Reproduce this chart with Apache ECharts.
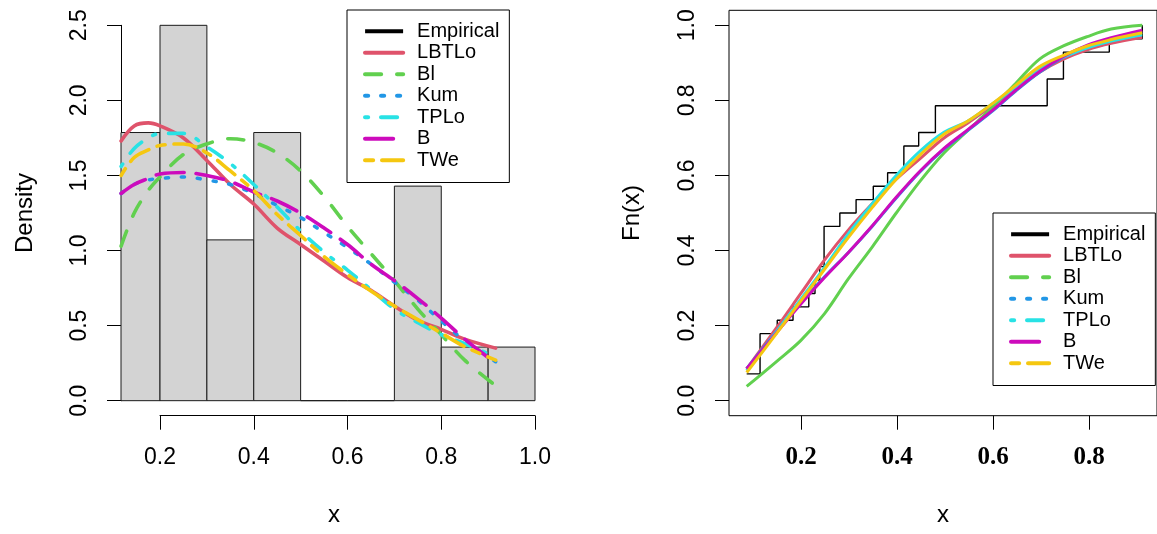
<!DOCTYPE html>
<html><head><meta charset="utf-8">
<script src="https://cdn.jsdelivr.net/npm/echarts@6/dist/echarts.min.js"></script>
<style>html,body{margin:0;padding:0;background:#fff}#c{width:1157px;height:534px}</style>
</head><body><div id="c"></div>
<script>
// ---------------- data ----------------
const modelNames = ['LBTLo', 'Bl', 'Kum', 'TPLo', 'B', 'TWe'];
const legendNames = ['Empirical', 'LBTLo', 'Bl', 'Kum', 'TPLo', 'B', 'TWe'];

// histogram (density scale)
const histBreaks  = [0.0, 0.1, 0.2, 0.3, 0.4, 0.5, 0.6, 0.7, 0.8, 0.9, 1.0];
const histDensity = [0.714, 1.786, 2.5, 1.071, 1.786, 0, 0, 1.429, 0.357, 0.357];

// fitted densities (left panel)
const densX     = [0.117, 0.145, 0.175, 0.2, 0.25, 0.3, 0.35, 0.4, 0.45, 0.5, 0.55, 0.6, 0.65, 0.7, 0.75, 0.8, 0.85, 0.916];
const densLBTLo = [1.73, 1.83, 1.85, 1.83, 1.75, 1.60, 1.44, 1.31, 1.15, 1.04, 0.93, 0.82, 0.735, 0.63, 0.535, 0.475, 0.41, 0.35];
const densBl    = [1.03, 1.25, 1.40, 1.49, 1.64, 1.71, 1.745, 1.72, 1.65, 1.53, 1.36, 1.16, 0.98, 0.80, 0.61, 0.44, 0.27, 0.10];
const densKum   = [1.38, 1.44, 1.47, 1.48, 1.49, 1.47, 1.44, 1.38, 1.30, 1.22, 1.12, 1.02, 0.91, 0.79, 0.67, 0.53, 0.40, 0.26];
const densTPLo  = [1.56, 1.68, 1.75, 1.78, 1.78, 1.69, 1.58, 1.44, 1.29, 1.13, 0.99, 0.87, 0.74, 0.61, 0.52, 0.44, 0.38, 0.29];
const densB     = [1.38, 1.44, 1.48, 1.51, 1.52, 1.50, 1.46, 1.39, 1.33, 1.25, 1.15, 1.04, 0.91, 0.80, 0.68, 0.55, 0.41, 0.25];
const densTWe   = [1.50, 1.62, 1.67, 1.70, 1.71, 1.65, 1.53, 1.40, 1.24, 1.10, 0.96, 0.84, 0.73, 0.63, 0.54, 0.45, 0.36, 0.27];

// empirical CDF steps (right panel)
const ecdfX = [0.087, 0.115, 0.151, 0.184, 0.217, 0.230, 0.240, 0.249, 0.282, 0.316, 0.352, 0.382, 0.416, 0.447, 0.482, 0.716, 0.750, 0.846, 0.915];
const ecdfY = [0.0714, 0.1786, 0.2143, 0.25, 0.2857, 0.3214, 0.3571, 0.4643, 0.5, 0.5357, 0.5714, 0.6071, 0.6786, 0.7143, 0.7857, 0.8571, 0.9286, 0.9643, 1.0];

// fitted CDFs (right panel)
const cdfX     = [0.087, 0.15, 0.2, 0.25, 0.3, 0.35, 0.4, 0.45, 0.5, 0.55, 0.6, 0.65, 0.7, 0.75, 0.8, 0.85, 0.915];
const cdfLBTLo = [0.085, 0.195, 0.285, 0.375, 0.455, 0.525, 0.59, 0.645, 0.70, 0.74, 0.785, 0.83, 0.875, 0.91, 0.935, 0.952, 0.968];
const cdfBl    = [0.038, 0.105, 0.16, 0.232, 0.325, 0.41, 0.50, 0.585, 0.66, 0.72, 0.78, 0.845, 0.91, 0.945, 0.97, 0.99, 1.0];
const cdfKum   = [0.085, 0.185, 0.26, 0.33, 0.395, 0.465, 0.54, 0.61, 0.67, 0.72, 0.77, 0.825, 0.875, 0.915, 0.945, 0.964, 0.982];
const cdfTPLo  = [0.08, 0.185, 0.27, 0.355, 0.445, 0.525, 0.60, 0.665, 0.715, 0.745, 0.79, 0.835, 0.885, 0.915, 0.94, 0.958, 0.975];
const cdfB     = [0.085, 0.182, 0.257, 0.328, 0.395, 0.466, 0.542, 0.612, 0.672, 0.722, 0.772, 0.827, 0.877, 0.917, 0.947, 0.967, 0.987];
const cdfTWe   = [0.075, 0.18, 0.265, 0.35, 0.435, 0.515, 0.59, 0.655, 0.71, 0.745, 0.79, 0.84, 0.89, 0.92, 0.945, 0.962, 0.98];

const densVals = [densLBTLo, densBl, densKum, densTPLo, densB, densTWe];
const cdfVals  = [cdfLBTLo, cdfBl, cdfKum, cdfTPLo, cdfB, cdfTWe];

// ---------------- styles ----------------
const colors = ['#DF536B', '#61D04F', '#2297E6', '#28E2E5', '#CD0BBC', '#F5C710'];
const dashes = ['solid', [16, 16], [3, 13], [3, 13, 16, 13], [28, 12], [8, 9, 22, 9]];
const SANS = 'Liberation Sans, Arial, sans-serif';
const SERIF = 'Liberation Serif, Times New Roman, serif';

// layout (pixels)
const L = {left: 121, right: 547, px02: 160, px10: 535};
const R = {left: 729, width: 430, px02: 801, px08: 1089};
const Y = {top: 10.3, bottom: 415.7, py0: 400.7, pyTop: 25.3};
const lScale = (L.px10 - L.px02) / 0.8;
const rScale = (R.px08 - R.px02) / 0.6;
const lxMin = 0.2 - (L.px02 - L.left) / lScale;
const lxMax = 1.0 + (L.right - L.px10) / lScale;
const rxMin = 0.2 - (R.px02 - R.left) / rScale;
const rxMax = rxMin + R.width / rScale;

const hidden = {show: false};
const fmt1 = v => v.toFixed(1);

const chart = echarts.init(document.getElementById('c'), null, {renderer: 'canvas'});

const series = [];
series.push({
  type: 'custom', name: 'hist', xAxisIndex: 0, yAxisIndex: 0, silent: true,
  data: histDensity.map((d, i) => [histBreaks[i], histBreaks[i + 1], d]),
  encode: {x: [0, 1], y: 2},
  renderItem: function (params, api) {
    const p0 = api.coord([api.value(0), api.value(2)]);
    const p1 = api.coord([api.value(1), 0]);
    const r = echarts.graphic.clipRectByRect(
      {x: p0[0], y: p0[1], width: p1[0] - p0[0], height: p1[1] - p0[1]},
      {x: params.coordSys.x, y: params.coordSys.y, width: params.coordSys.width, height: params.coordSys.height});
    if (!r) return null;
    return {type: 'rect', shape: r, style: {fill: '#D3D3D3', stroke: '#1a1a1a', lineWidth: 1}};
  }
});
modelNames.forEach((n, k) => {
  series.push({
    type: 'line', name: n, xAxisIndex: 0, yAxisIndex: 0, silent: true,
    data: densX.map((x, i) => [x, densVals[k][i]]),
    symbol: 'none', smooth: 0.35,
    lineStyle: {color: colors[k], width: 3.6, type: dashes[k], cap: 'round', join: 'round'},
    itemStyle: {color: colors[k]}
  });
});
series.push({
  type: 'line', name: 'Empirical', xAxisIndex: 2, yAxisIndex: 2, silent: true,
  data: ecdfX.map((x, i) => [x, ecdfY[i]]), step: 'end', symbol: 'none',
  lineStyle: {color: '#000', width: 1.4}, itemStyle: {color: '#000'}
});
modelNames.forEach((n, k) => {
  series.push({
    type: 'line', name: n, xAxisIndex: 2, yAxisIndex: 2, silent: true,
    data: cdfX.map((x, i) => [x, cdfVals[k][i]]),
    symbol: 'none', smooth: 0.35,
    lineStyle: {color: colors[k], width: 3, type: 'solid'},
    itemStyle: {color: colors[k]}
  });
});

const legendCommon = {
  orient: 'vertical', selectedMode: false,
  padding: [10.5, 10, 11.5, 16], itemWidth: 38, itemHeight: 14, itemGap: 0,
  borderColor: '#000', borderWidth: 1, borderRadius: 0, backgroundColor: '#fff',
  itemStyle: {opacity: 0}, lineStyle: {width: 4.2},
  formatter: '{t|{name}}',
  textStyle: {color: '#000', fontFamily: SANS, fontSize: 20, lineHeight: 21.5,
    rich: {t: {padding: [0, 0, 0, 9], color: '#000', fontFamily: SANS, fontSize: 20, lineHeight: 21.5}}},
  data: legendNames
};

const tickLbl = {color: '#000', fontFamily: SANS, fontSize: 23};

chart.setOption({
  animation: false,
  backgroundColor: '#fff',
  grid: [
    {left: L.left, top: Y.top, width: L.right - L.left, height: Y.bottom - Y.top, show: false},
    {left: L.px02, top: Y.pyTop, width: L.px10 - L.px02, height: Y.py0 - Y.pyTop, show: false},
    {left: R.left, top: Y.top, width: R.width, height: Y.bottom - Y.top, show: true,
      borderColor: '#000', borderWidth: 1, backgroundColor: 'transparent'},
    {left: R.px02, top: Y.pyTop, width: R.px08 - R.px02, height: Y.py0 - Y.pyTop, show: false}
  ],
  xAxis: [
    {type: 'value', gridIndex: 0, min: lxMin, max: lxMax, axisLine: hidden, axisTick: hidden,
      axisLabel: hidden, splitLine: hidden, name: 'x', nameLocation: 'middle', nameGap: 88,
      nameTextStyle: {color: '#000', fontFamily: SANS, fontSize: 24}},
    {type: 'value', gridIndex: 1, min: 0.2, max: 1.0, interval: 0.2, position: 'bottom',
      offset: Y.bottom - Y.py0,
      axisLine: {show: true, onZero: false, lineStyle: {color: '#000', width: 1}},
      axisTick: {show: true, length: 14, lineStyle: {color: '#000', width: 1}},
      axisLabel: Object.assign({margin: 30, formatter: fmt1}, tickLbl), splitLine: hidden},
    {type: 'value', gridIndex: 2, min: rxMin, max: rxMax, axisLine: hidden, axisTick: hidden,
      axisLabel: hidden, splitLine: hidden, name: 'x', nameLocation: 'middle', nameGap: 88,
      nameTextStyle: {color: '#000', fontFamily: SANS, fontSize: 24}},
    {type: 'value', gridIndex: 3, min: 0.2, max: 0.8, interval: 0.2, position: 'bottom',
      offset: Y.bottom - Y.py0,
      axisLine: {show: false, onZero: false},
      axisTick: {show: true, length: 14, lineStyle: {color: '#000', width: 1}},
      axisLabel: {margin: 29, formatter: fmt1, color: '#000', fontFamily: SERIF, fontWeight: 'bold', fontSize: 25},
      splitLine: hidden}
  ],
  yAxis: [
    {type: 'value', gridIndex: 0, min: -0.1, max: 2.6, axisLine: hidden, axisTick: hidden,
      axisLabel: hidden, splitLine: hidden, name: 'Density', nameLocation: 'middle', nameGap: 84,
      nameTextStyle: {color: '#000', fontFamily: SANS, fontSize: 24}},
    {type: 'value', gridIndex: 1, min: 0, max: 2.5, interval: 0.5, position: 'left',
      offset: L.px02 - L.left,
      axisLine: {show: true, onZero: false, lineStyle: {color: '#000', width: 1}},
      axisTick: {show: true, length: 14, lineStyle: {color: '#000', width: 1}},
      axisLabel: Object.assign({margin: 30, rotate: 90, formatter: fmt1}, tickLbl), splitLine: hidden},
    {type: 'value', gridIndex: 2, min: -0.04, max: 1.04, axisLine: hidden, axisTick: hidden,
      axisLabel: hidden, splitLine: hidden, name: 'Fn(x)', nameLocation: 'middle', nameGap: 85,
      nameTextStyle: {color: '#000', fontFamily: SANS, fontSize: 24}},
    {type: 'value', gridIndex: 3, min: 0, max: 1, interval: 0.2, position: 'left',
      offset: R.px02 - R.left,
      axisLine: {show: false, onZero: false},
      axisTick: {show: true, length: 14, lineStyle: {color: '#000', width: 1}},
      axisLabel: Object.assign({margin: 30, rotate: 90, formatter: fmt1}, tickLbl), splitLine: hidden}
  ],
  legend: [
    Object.assign({left: 347, top: 10}, legendCommon),
    Object.assign({left: 993, top: 213}, legendCommon)
  ],
  series: series
});
</script>
</body></html>
